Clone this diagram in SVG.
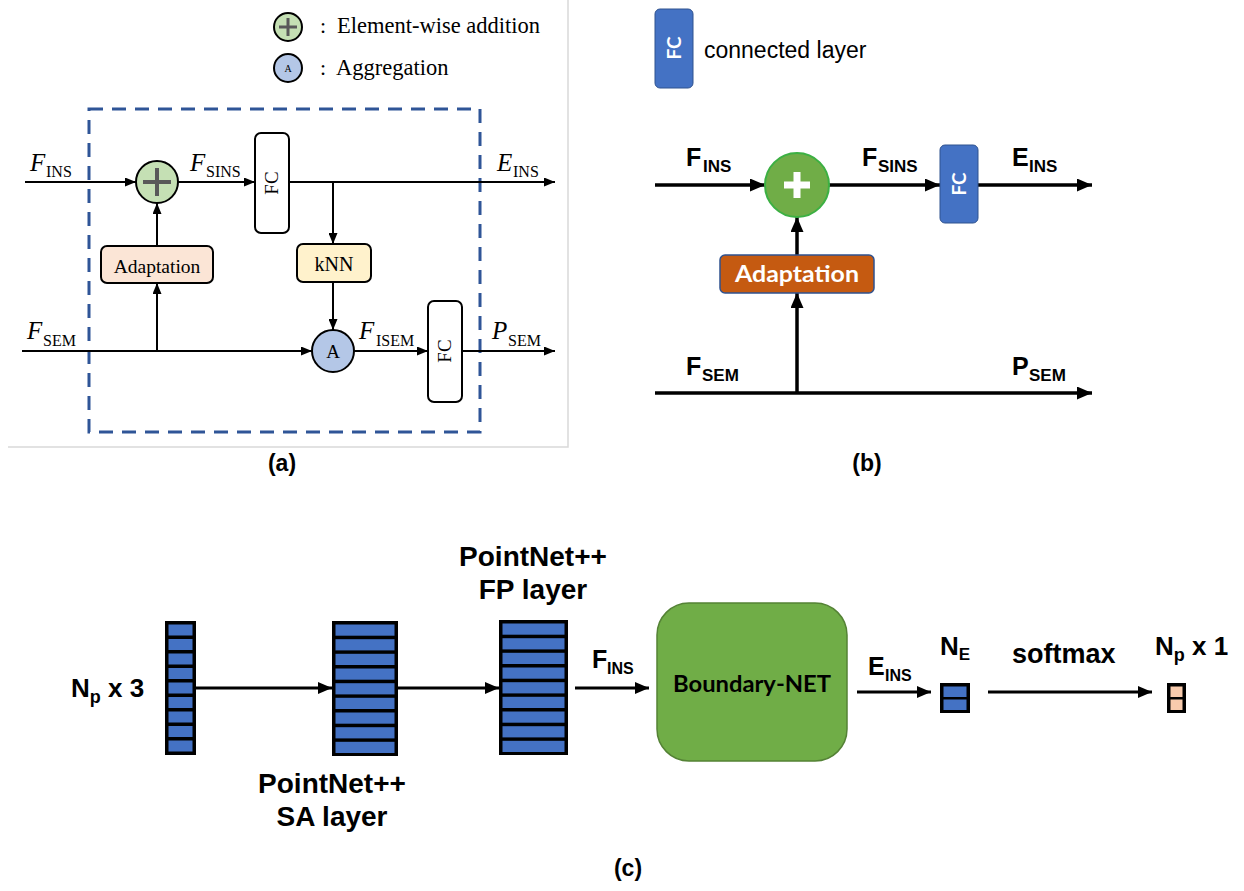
<svg xmlns="http://www.w3.org/2000/svg" width="1244" height="891" viewBox="0 0 1244 891">
  <style>
    .serif { font-family: "Liberation Serif", "Times New Roman", serif; fill: #000; }
    .sans { font-family: "Liberation Sans", Arial, sans-serif; font-weight: bold; fill: #000; }
    .round { font-family: Lato, "Open Sans", sans-serif; font-weight: bold; }
    .la { stroke: #000; stroke-width: 2; fill: none; }
    .lb { stroke: #000; stroke-width: 3.5; fill: none; }
    .lc { stroke: #000; stroke-width: 3; fill: none; }
    .boxa { stroke: #000; stroke-width: 2; }
    .cell { fill: #4472c4; }
    .cellw { fill: #f8cbad; }
    .caption { font-family: "Liberation Sans", Arial, sans-serif; font-weight: bold; font-size: 23px; fill: #000; }
  </style>
  <defs>
    <marker id="ha" markerUnits="userSpaceOnUse" markerWidth="11" markerHeight="9" refX="11" refY="4.5" orient="auto">
      <path d="M0,0 L11,4.5 L0,9 z" fill="#000"/>
    </marker>
    <marker id="hb" markerUnits="userSpaceOnUse" markerWidth="15" markerHeight="13" refX="15" refY="6.5" orient="auto">
      <path d="M0,0 L15,6.5 L0,13 z" fill="#000"/>
    </marker>
    <marker id="hc" markerUnits="userSpaceOnUse" markerWidth="14" markerHeight="12" refX="14" refY="6" orient="auto">
      <path d="M0,0 L14,6 L0,12 z" fill="#000"/>
    </marker>
  </defs>

  <rect width="1244" height="891" fill="#fff"/>

  <!-- panel (a) frame -->
  <path d="M568,0 V447 H8" fill="none" stroke="#d9d9d9" stroke-width="1.5"/>

  <!-- panel (a) legend -->
  <g id="legend-a">
    <circle cx="288" cy="27" r="14" fill="#c5e0b4" stroke="#000" stroke-width="2"/>
    <path d="M279,27 H297 M288,18 V36" stroke="#595959" stroke-width="3"/>
    <text class="serif" x="320" y="33" font-size="22">:</text>
    <text class="serif" x="337" y="33" font-size="22.5">Element-wise addition</text>
    <circle cx="288" cy="68" r="14" fill="#b4c7e7" stroke="#000" stroke-width="2"/>
    <text class="serif" x="288" y="72" font-size="10" text-anchor="middle">A</text>
    <text class="serif" x="320" y="75" font-size="22">:</text>
    <text class="serif" x="336" y="75" font-size="22.5">Aggregation</text>
  </g>

  <!-- panel (a) module boundary -->
  <rect id="module-a" x="89" y="109" width="391" height="323" fill="none" stroke="#2f5597" stroke-width="3" stroke-dasharray="14 9"/>

  <!-- panel (a) connectors -->
  <g id="connectors-a">
    <path class="la" d="M25,182 H136" marker-end="url(#ha)"/>
    <path class="la" d="M178,182 H255" marker-end="url(#ha)"/>
    <path class="la" d="M289,182 H555" marker-end="url(#ha)"/>
    <path class="la" d="M333,182 V244" marker-end="url(#ha)"/>
    <path class="la" d="M333,282 V330" marker-end="url(#ha)"/>
    <path class="la" d="M22,351 H312" marker-end="url(#ha)"/>
    <path class="la" d="M354,351 H428" marker-end="url(#ha)"/>
    <path class="la" d="M462,351 H555" marker-end="url(#ha)"/>
    <path class="la" d="M157,351 V283" marker-end="url(#ha)"/>
    <path class="la" d="M157,246 V203" marker-end="url(#ha)"/>
  </g>

  <!-- panel (a) nodes -->
  <g id="add-a">
    <circle cx="157" cy="182" r="21" fill="#c5e0b4" stroke="#000" stroke-width="2"/>
    <path d="M143,182 H171 M157,168 V196" stroke="#595959" stroke-width="4"/>
  </g>
  <g id="fc1-a">
    <rect class="boxa" x="255" y="133" width="34" height="100" rx="6" fill="#fff"/>
    <text class="serif" font-size="19" text-anchor="middle" transform="translate(278,183) rotate(-90)">FC</text>
  </g>
  <g id="adaptation-a">
    <rect class="boxa" x="101" y="246" width="112" height="37" rx="6" fill="#fbe5d6"/>
    <text class="serif" x="157" y="273" font-size="19.5" text-anchor="middle">Adaptation</text>
  </g>
  <g id="knn-a">
    <rect class="boxa" x="297" y="244" width="74" height="38" rx="6" fill="#fff2cc"/>
    <text class="serif" x="334" y="271" font-size="20" text-anchor="middle">kNN</text>
  </g>
  <g id="agg-a">
    <circle cx="333" cy="351" r="21" fill="#b4c7e7" stroke="#000" stroke-width="2"/>
    <text class="serif" x="333" y="358" font-size="19" text-anchor="middle">A</text>
  </g>
  <g id="fc2-a">
    <rect class="boxa" x="428" y="301" width="34" height="101" rx="6" fill="#fff"/>
    <text class="serif" font-size="19" text-anchor="middle" transform="translate(451,351) rotate(-90)">FC</text>
  </g>

  <!-- panel (a) signal labels -->
  <g id="labels-a" class="serif">
    <text x="30" y="171" font-size="25" font-style="italic">F</text>
    <text x="46" y="177" font-size="16">INS</text>
    <text x="190" y="171" font-size="25" font-style="italic">F</text>
    <text x="206" y="177" font-size="16">SINS</text>
    <text x="497" y="171" font-size="25" font-style="italic">E</text>
    <text x="513" y="177" font-size="16">INS</text>
    <text x="27" y="339" font-size="25" font-style="italic">F</text>
    <text x="43" y="346" font-size="16">SEM</text>
    <text x="359" y="339" font-size="25" font-style="italic">F</text>
    <text x="376" y="346" font-size="16">ISEM</text>
    <text x="492" y="339" font-size="25" font-style="italic">P</text>
    <text x="508" y="346" font-size="16">SEM</text>
  </g>
  <text class="caption" x="282" y="471" text-anchor="middle">(a)</text>

  <!-- panel (b) legend -->
  <g id="legend-b">
    <rect x="655" y="9" width="38" height="79" rx="5" fill="#4472c4" stroke="#2f528f" stroke-width="1"/>
    <text class="round" font-size="19" fill="#fff" text-anchor="middle" transform="translate(681,48) rotate(-90)">FC</text>
    <text x="704" y="58" font-family="Liberation Sans, Arial, sans-serif" font-size="23" fill="#000">connected layer</text>
  </g>

  <!-- panel (b) connectors -->
  <g id="connectors-b">
    <path class="lb" d="M655,185 H765" marker-end="url(#hb)"/>
    <path class="lb" d="M829,185 H940" marker-end="url(#hb)"/>
    <path class="lb" d="M978,185 H1092" marker-end="url(#hb)"/>
    <path class="lb" d="M797,393 V293" marker-end="url(#hb)"/>
    <path class="lb" d="M797,255 V217" marker-end="url(#hb)"/>
    <path class="lb" d="M655,393 H1092" marker-end="url(#hb)"/>
  </g>

  <!-- panel (b) nodes -->
  <g id="add-b">
    <circle cx="797" cy="185" r="32" fill="#70ad47" stroke="#3cb043" stroke-width="2"/>
    <path d="M784,185 H810 M797,172 V198" stroke="#fff" stroke-width="7"/>
  </g>
  <g id="fc-b">
    <rect x="940" y="145" width="38" height="78" rx="5" fill="#4472c4" stroke="#2f528f" stroke-width="1"/>
    <text class="round" font-size="19" fill="#fff" text-anchor="middle" transform="translate(966,184) rotate(-90)">FC</text>
  </g>
  <g id="adaptation-b">
    <rect x="720" y="255" width="154" height="38" rx="5" fill="#c55a11" stroke="#2f528f" stroke-width="1.5"/>
    <text class="round" x="797" y="282" font-size="23" fill="#fff" text-anchor="middle" textLength="124" lengthAdjust="spacingAndGlyphs">Adaptation</text>
  </g>

  <!-- panel (b) signal labels -->
  <g id="labels-b" class="sans">
    <text x="686" y="166" font-size="25">F</text>
    <text x="703" y="172" font-size="17">INS</text>
    <text x="862" y="166" font-size="25">F</text>
    <text x="878" y="172" font-size="17">SINS</text>
    <text x="1012" y="166" font-size="25">E</text>
    <text x="1029" y="172" font-size="17">INS</text>
    <text x="686" y="375" font-size="25">F</text>
    <text x="702" y="381" font-size="17">SEM</text>
    <text x="1012" y="375" font-size="25">P</text>
    <text x="1029" y="381" font-size="17">SEM</text>
  </g>
  <text class="caption" x="867" y="471" text-anchor="middle">(b)</text>

  <!-- panel (c) connectors -->
  <g id="connectors-c">
    <path class="lc" d="M196,688 H332" marker-end="url(#hc)"/>
    <path class="lc" d="M398,688 H499" marker-end="url(#hc)"/>
    <path class="lc" d="M575,688 H649" marker-end="url(#hc)"/>
    <path class="lc" d="M857,692 H931" marker-end="url(#hc)"/>
    <path class="lc" d="M988,692 H1152" marker-end="url(#hc)"/>
  </g>

  <!-- input points N_p x 3 -->
  <g id="input-c">
    <rect x="165" y="621" width="31" height="134" fill="#000"/>
    <rect class="cell" x="168.5" y="624.5" width="24" height="11"/>
    <rect class="cell" x="168.5" y="639" width="24" height="11"/>
    <rect class="cell" x="168.5" y="653.5" width="24" height="11"/>
    <rect class="cell" x="168.5" y="668" width="24" height="11"/>
    <rect class="cell" x="168.5" y="682.5" width="24" height="11"/>
    <rect class="cell" x="168.5" y="697" width="24" height="11"/>
    <rect class="cell" x="168.5" y="711.5" width="24" height="11"/>
    <rect class="cell" x="168.5" y="726" width="24" height="11"/>
    <rect class="cell" x="168.5" y="740.5" width="24" height="11"/>
    <text class="sans" x="71" y="697" font-size="26">N<tspan font-size="18" dy="6">p</tspan><tspan dy="-6"> x 3</tspan></text>
  </g>

  <!-- PointNet++ SA layer -->
  <g id="sa-layer">
    <rect x="332" y="621" width="66" height="135" fill="#000"/>
    <rect class="cell" x="335.5" y="624.5" width="59" height="11.2"/>
    <rect class="cell" x="335.5" y="639.2" width="59" height="11.2"/>
    <rect class="cell" x="335.5" y="653.8" width="59" height="11.2"/>
    <rect class="cell" x="335.5" y="668.5" width="59" height="11.2"/>
    <rect class="cell" x="335.5" y="683.2" width="59" height="11.2"/>
    <rect class="cell" x="335.5" y="697.8" width="59" height="11.2"/>
    <rect class="cell" x="335.5" y="712.5" width="59" height="11.2"/>
    <rect class="cell" x="335.5" y="727.2" width="59" height="11.2"/>
    <rect class="cell" x="335.5" y="741.8" width="59" height="11.2"/>
    <text class="sans" x="332" y="793" font-size="28" text-anchor="middle">PointNet++</text>
    <text class="sans" x="332" y="826" font-size="28" text-anchor="middle">SA layer</text>
  </g>

  <!-- PointNet++ FP layer -->
  <g id="fp-layer">
    <rect x="499" y="620" width="69" height="135" fill="#000"/>
    <rect class="cell" x="502.5" y="623.5" width="62" height="11.2"/>
    <rect class="cell" x="502.5" y="638.2" width="62" height="11.2"/>
    <rect class="cell" x="502.5" y="652.8" width="62" height="11.2"/>
    <rect class="cell" x="502.5" y="667.5" width="62" height="11.2"/>
    <rect class="cell" x="502.5" y="682.2" width="62" height="11.2"/>
    <rect class="cell" x="502.5" y="696.8" width="62" height="11.2"/>
    <rect class="cell" x="502.5" y="711.5" width="62" height="11.2"/>
    <rect class="cell" x="502.5" y="726.2" width="62" height="11.2"/>
    <rect class="cell" x="502.5" y="740.8" width="62" height="11.2"/>
    <text class="sans" x="533" y="566" font-size="28" text-anchor="middle">PointNet++</text>
    <text class="sans" x="533" y="599" font-size="28" text-anchor="middle">FP layer</text>
  </g>

  <!-- Boundary-NET -->
  <g id="boundary-net">
    <rect x="657" y="603" width="190" height="158" rx="32" fill="#70ad47" stroke="#548235" stroke-width="1.5"/>
    <text class="round" x="752" y="692" font-size="22" fill="#000" text-anchor="middle" textLength="158" lengthAdjust="spacingAndGlyphs">Boundary-NET</text>
  </g>

  <!-- embedding N_E -->
  <g id="embedding-c">
    <rect x="940" y="683" width="30" height="30" fill="#000"/>
    <rect class="cell" x="943.5" y="686.5" width="23" height="10.5"/>
    <rect class="cell" x="943.5" y="699.5" width="23" height="10.5"/>
    <text class="sans" x="940" y="655" font-size="26">N<tspan font-size="17" dy="5">E</tspan></text>
  </g>

  <!-- output N_p x 1 -->
  <g id="output-c">
    <rect x="1167" y="683" width="19" height="30" fill="#000"/>
    <rect class="cellw" x="1170.5" y="686.5" width="12" height="10.5"/>
    <rect class="cellw" x="1170.5" y="699.5" width="12" height="10.5"/>
    <text class="sans" x="1155" y="655" font-size="26">N<tspan font-size="18" dy="6">p</tspan><tspan dy="-6"> x 1</tspan></text>
  </g>

  <!-- panel (c) signal labels -->
  <g id="labels-c" class="sans">
    <text x="592" y="668" font-size="25">F</text>
    <text x="607" y="674" font-size="16">INS</text>
    <text x="868" y="675" font-size="25">E</text>
    <text x="885" y="681" font-size="16">INS</text>
    <text x="1012" y="663" font-size="27">softmax</text>
  </g>
  <text class="caption" x="628" y="876" text-anchor="middle">(c)</text>
</svg>
